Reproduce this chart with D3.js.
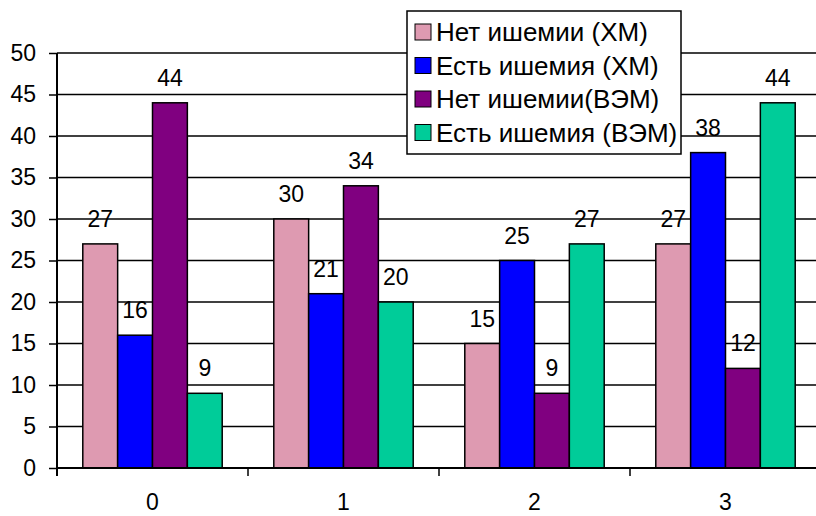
<!DOCTYPE html>
<html>
<head>
<meta charset="utf-8">
<script src="https://cdn.jsdelivr.net/npm/d3@7"></script>
<style>
  html, body { margin: 0; padding: 0; background: #fff; }
  svg { display: block; font-family: Arial, "Liberation Sans", sans-serif; }
</style>
</head>
<body>
<svg id="chart" width="816" height="516"></svg>
<script>
// Categories on the x axis
const categories = ["0", "1", "2", "3"];
// Series names (legend) and colours
const seriesNames = ["Нет ишемии (ХМ)", "Есть ишемия (ХМ)", "Нет ишемии(ВЭМ)", "Есть ишемия (ВЭМ)"];
const seriesColors = ["#DE9AB1", "#0000FF", "#800080", "#00CC99"];
// Values per series, one per category
const noIschemiaHM  = [27, 30, 15, 27];
const ischemiaHM    = [16, 21, 25, 38];
const noIschemiaVEM = [44, 34, 9, 12];
const ischemiaVEM   = [9, 20, 27, 44];
const seriesValues = [noIschemiaHM, ischemiaHM, noIschemiaVEM, ischemiaVEM];
// Y axis ticks
const yTicks = [0, 5, 10, 15, 20, 25, 30, 35, 40, 45, 50];

const numFont = 23;
const legendFont = 26;

const svg = d3.select("#chart");
const plotLeft = 57, plotRight = 57 + 4 * 191, plotTop = 53, plotBottom = 468;

const x = d3.scaleBand().domain(categories).range([plotLeft, plotRight]).paddingInner(0).paddingOuter(0);
const inner = d3.scaleBand().domain(d3.range(seriesNames.length))
  .range([0, x.bandwidth()]).paddingInner(0).paddingOuter(0.74);
const y = d3.scaleLinear().domain([0, 50]).range([plotBottom, plotTop]);

// Horizontal gridlines
svg.append("g")
  .selectAll("line")
  .data(yTicks.filter(d => d > 0))
  .join("line")
  .attr("x1", plotLeft).attr("x2", 816)
  .attr("y1", d => y(d)).attr("y2", d => y(d))
  .attr("stroke", "#000").attr("stroke-width", 1.5);

// Bars
const rows = [];
categories.forEach((c, ci) => {
  seriesValues.forEach((vals, si) => rows.push({ c, si, v: vals[ci] }));
});

svg.append("g")
  .selectAll("rect")
  .data(rows)
  .join("rect")
  .attr("x", d => x(d.c) + inner(d.si))
  .attr("y", d => y(d.v))
  .attr("width", inner.bandwidth())
  .attr("height", d => y(0) - y(d.v))
  .attr("fill", d => seriesColors[d.si])
  .attr("stroke", "#000").attr("stroke-width", 1.5);

// Value labels
svg.append("g")
  .selectAll("text")
  .data(rows)
  .join("text")
  .attr("x", d => x(d.c) + inner(d.si) + inner.bandwidth() / 2)
  .attr("y", d => y(d.v) - 17)
  .attr("text-anchor", "middle")
  .attr("font-size", numFont)
  .attr("fill", "#000")
  .text(d => d.v);

// Y axis
const yAxis = d3.axisLeft(y).tickValues(yTicks).tickSize(8).tickPadding(13);
const gy = svg.append("g").attr("transform", `translate(${plotLeft},0)`).call(yAxis);
gy.select(".domain").remove();
gy.selectAll(".tick line").attr("stroke", "#000").attr("stroke-width", 1.5);
gy.selectAll(".tick text").attr("font-size", numFont).attr("font-family", "Arial, 'Liberation Sans', sans-serif").attr("fill", "#000");
svg.append("line")
  .attr("x1", plotLeft).attr("x2", plotLeft).attr("y1", plotTop).attr("y2", plotBottom + 8)
  .attr("stroke", "#000").attr("stroke-width", 2);

// X axis
svg.append("line")
  .attr("x1", plotLeft).attr("x2", 816).attr("y1", plotBottom).attr("y2", plotBottom)
  .attr("stroke", "#000").attr("stroke-width", 2);
svg.append("g")
  .selectAll("line")
  .data(categories.slice(1))
  .join("line")
  .attr("x1", d => x(d)).attr("x2", d => x(d))
  .attr("y1", plotBottom).attr("y2", plotBottom + 8)
  .attr("stroke", "#000").attr("stroke-width", 1.5);
svg.append("g")
  .selectAll("text")
  .data(categories)
  .join("text")
  .attr("x", d => x(d) + x.bandwidth() / 2)
  .attr("y", 510)
  .attr("text-anchor", "middle")
  .attr("font-size", numFont)
  .attr("fill", "#000")
  .text(d => d);

// Legend
const lg = svg.append("g");
lg.append("rect")
  .attr("x", 407).attr("y", 11).attr("width", 274).attr("height", 143)
  .attr("fill", "#fff").attr("stroke", "#000").attr("stroke-width", 1.5);
const items = lg.selectAll("g.item")
  .data(seriesNames)
  .join("g")
  .attr("class", "item")
  .attr("transform", (d, i) => `translate(0, ${32 + i * 33.5})`);
items.append("rect")
  .attr("x", 415).attr("y", -8).attr("width", 16).attr("height", 16)
  .attr("fill", (d, i) => seriesColors[i])
  .attr("stroke", "#000").attr("stroke-width", 1);
items.append("text")
  .attr("x", 436).attr("y", 9)
  .attr("font-size", legendFont)
  .attr("fill", "#000")
  .text(d => d);
</script>
</body>
</html>
